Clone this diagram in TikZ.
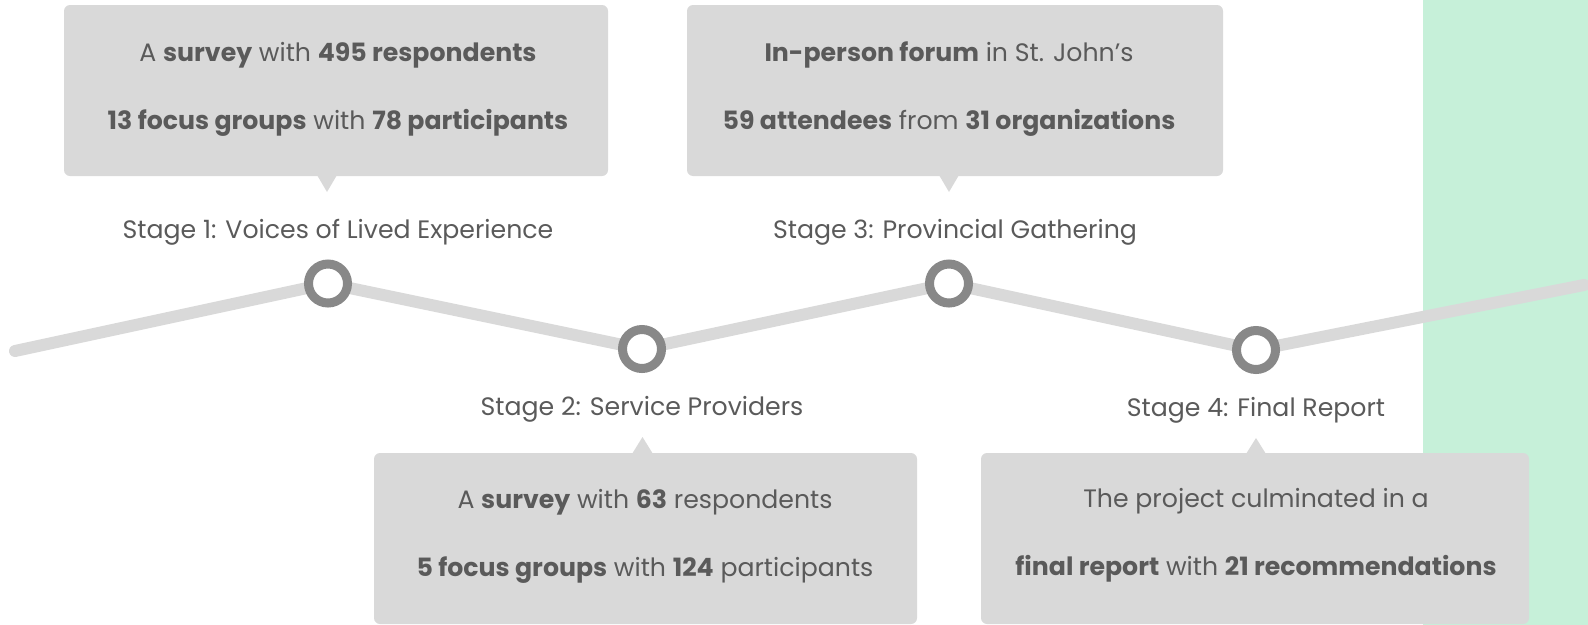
\documentclass[tikz,border=0pt]{standalone}
\usepackage{fontspec}
\setmainfont{Poppins}
\definecolor{boxgray}{HTML}{D9D9D9}
\definecolor{linegray}{HTML}{D9D9D9}
\definecolor{ringgray}{HTML}{888888}
\definecolor{txtgray}{HTML}{5A5A5A}
\definecolor{mint}{HTML}{C6F0D9}
\pgfdeclarelayer{bg}
\pgfsetlayers{bg,main}
\begin{document}
\begin{tikzpicture}[x=1pt,y=-1pt,
  infobox/.style={fill=boxgray, rounded corners=6pt, inner sep=0pt},
  pointer/.style={fill=boxgray},
  ring/.style={circle, draw=ringgray, line width=9pt, fill=white, minimum size=39pt, inner sep=0pt},
  track/.style={draw=linegray, line width=12pt, line cap=round, line join=round},
  txt/.style={anchor=base, text=txtgray, font=\fontsize{25.2}{30}\selectfont, inner sep=0pt},
]
\useasboundingbox (0,0) rectangle (1588,624);
\begin{pgfonlayer}{bg}
\fill[mint] (1423,-2) rectangle (1590,626);
\end{pgfonlayer}

% timeline
\coordinate (start) at (15,351);
\coordinate (finish) at (1584,285);
\node[ring] (s1) at (328,283.5) {};
\node[ring] (s2) at (642,349) {};
\node[ring] (s3) at (949,283.5) {};
\node[ring] (s4) at (1256,350) {};
\begin{pgfonlayer}{bg}
\draw[track] (start) -- (s1.center) -- (s2.center) -- (s3.center) -- (s4.center) -- (finish);
\end{pgfonlayer}

% boxes
\node[infobox, minimum width=544pt, minimum height=171pt] (b1) at (336,90.5) {};
\fill[pointer] (317,175) -- (337,175) -- (327,192) -- cycle;
\node[infobox, minimum width=536pt, minimum height=171pt] (b3) at (955,90.5) {};
\fill[pointer] (939,175) -- (959,175) -- (949,192) -- cycle;
\node[infobox, minimum width=543pt, minimum height=171pt] (b2) at (645.5,538.5) {};
\fill[pointer] (632,454) -- (653,454) -- (642.5,437) -- cycle;
\node[infobox, minimum width=548pt, minimum height=171pt] (b4) at (1255,538.5) {};
\fill[pointer] (1246,454) -- (1266,454) -- (1256,438) -- cycle;

% box texts
\node[txt] (t1a) at (338,61) {A \textbf{survey} with \textbf{495 respondents}};
\node[txt] (t1b) at (338,129) {\textbf{13 focus groups} with \textbf{78 participants}};
\node[txt] (t3a) at (949,61) {\textbf{In-person forum} in St. John’s};
\node[txt] (t3b) at (949,129) {\textbf{59 attendees} from \textbf{31 organizations}};
\node[txt] (t2a) at (645,508) {A \textbf{survey} with \textbf{63} respondents};
\node[txt] (t2b) at (645,576) {\textbf{5 focus groups} with \textbf{124} participants};
\node[txt] (t4a) at (1256,507) {The project culminated in a};
\node[txt] (t4b) at (1256,575) {\textbf{final report} with \textbf{21 recommendations}};

% stage labels
\node[txt] (l1) at (338,238) {Stage 1: Voices of Lived Experience};
\node[txt] (l3) at (955,238) {Stage 3: Provincial Gathering};
\node[txt] (l2) at (642,415) {Stage 2: Service Providers};
\node[txt] (l4) at (1256,416) {Stage 4: Final Report};
\end{tikzpicture}
\end{document}
